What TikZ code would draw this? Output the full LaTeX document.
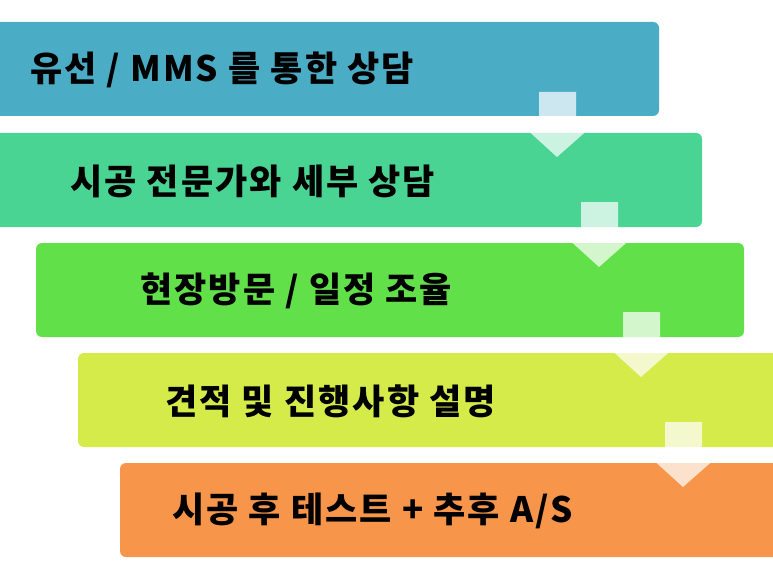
\documentclass[tikz,border=0pt]{standalone}
\usepackage{fontspec}
\usetikzlibrary{calc}
\setmainfont{Noto Sans CJK KR}[LetterSpace=6]
\begin{document}
\begin{tikzpicture}[x=1pt,y=-1pt,
  stepbox/.style={rounded corners=6pt},
  lbl/.style={anchor=west,font=\bfseries\fontsize{35}{38}\selectfont,text=black,inner sep=0pt},
  darrow/.style={fill=white,fill opacity=0.72,draw=none}]
\useasboundingbox (0,0) rectangle (773,580);
\definecolor{c1}{HTML}{4BACC6}
\definecolor{c2}{HTML}{4AD494}
\definecolor{c3}{HTML}{61E04A}
\definecolor{c4}{HTML}{D4EB49}
\definecolor{c5}{HTML}{F7964A}
\fill[stepbox,c1] (-10,22) rectangle (659,116);
\fill[stepbox,c2] (-10,133) rectangle (702,227);
\fill[stepbox,c3] (36,243) rectangle (744,337);
\fill[stepbox,c4] (78,353) rectangle (786,447);
\fill[stepbox,c5] (120,463) rectangle (786,557);
\node[lbl] (t1) at (30,70) {유선 / MMS 를 통한 상담};
\node[lbl] (t2) at (70,181) {시공 전문가와 세부 상담};
\node[lbl] (t3) at (140,291) {현장방문 / 일정 조율};
\node[lbl] (t4) at (165,401) {견적 및 진행사항 설명};
\node[lbl] (t5) at (172,511) {시공 후 테스트 + 추후 A/S};
\foreach \i in {0,1,2,3} {
  \coordinate (a\i) at (557+42*\i,92+110*\i);
  \fill[darrow] ($(a\i)+(-18,0)$) -- ++(37,0) -- ++(0,35) -- ++(15,0) -- ++(-34,30) -- ++(-33,-30) -- ++(15,0) -- cycle;
}
\end{tikzpicture}
\end{document}
